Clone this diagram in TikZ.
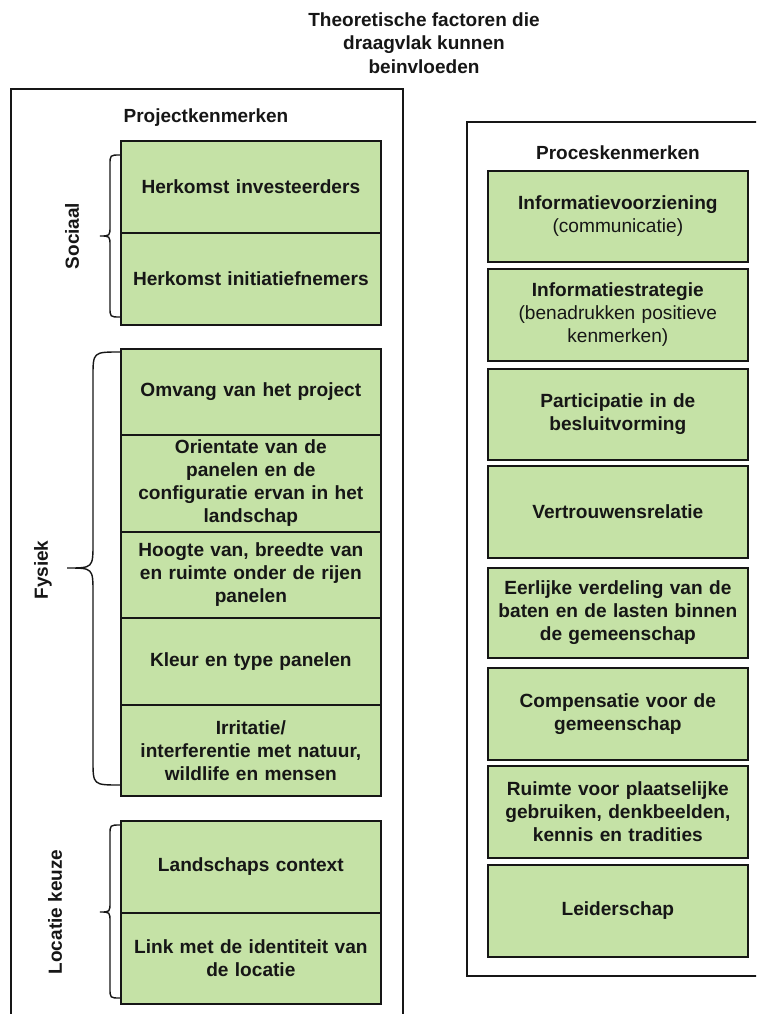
\documentclass[tikz,border=0pt]{standalone}
\usepackage{fontspec}
\setmainfont{Liberation Sans}
\definecolor{boxgreen}{RGB}{197,226,166}
\definecolor{inkc}{RGB}{22,22,22}
\begin{document}
\begin{tikzpicture}[x=1pt,y=-1pt,
  item/.style={draw=inkc, line width=1.7pt, fill=boxgreen, inner sep=0pt,
    align=center, text=inkc, font=\bfseries\fontsize{19.1}{23}\selectfont,
    minimum width=260pt, text width=254pt, anchor=north west},
  panel/.style={draw=inkc, line width=1.8pt, anchor=north west, inner sep=0pt},
  heading/.style={text=inkc, font=\bfseries\fontsize{19}{23.5}\selectfont, align=center},
  grouplabel/.style={text=inkc, font=\bfseries\fontsize{19}{22}\selectfont, rotate=90},
  bracestyle/.style={draw=inkc, line width=1.4pt}
]
\path[use as bounding box, clip] (0,0) rectangle (756,1014);
\fill[white] (0,0) rectangle (756,1014);

% title
\node[heading] (title) at (424,43) {Theoretische factoren die\\draagvlak kunnen\\beinvloeden};

% panels
\node[panel, minimum width=392pt, minimum height=960pt] (leftpanel) at (10,88) {};
\node[panel, minimum width=320pt, minimum height=854pt] (rightpanel) at (466,121) {};

\node[heading] (pk) at (206,118) {Projectkenmerken};
\node[heading] (prk) at (618,153) {Proceskenmerken};

% left items
\node[item, minimum height=92pt] (s1) at (120,140) {Herkomst investeerders};
\node[item, minimum height=92pt] (s2) at (120,232) {Herkomst initiatiefnemers};
\node[item, minimum height=86pt] (f1) at (120,348) {Omvang van het project};
\node[item, minimum height=97pt] (f2) at (120,434) {Orientate van de\\panelen en de\\configuratie ervan in het\\landschap};
\node[item, minimum height=86pt] (f3) at (120,531) {Hoogte van, breedte van\\en ruimte onder de rijen\\panelen};
\node[item, minimum height=87pt] (f4) at (120,617) {Kleur en type panelen};
\node[item, minimum height=91pt] (f5) at (120,704) {Irritatie/\\interferentie met natuur,\\wildlife en mensen};
\node[item, minimum height=92pt] (l1) at (120,820) {Landschaps context};
\node[item, minimum height=91pt] (l2) at (120,912) {Link met de identiteit van\\de locatie};

% right items
\node[item, minimum height=91pt] (r1) at (487,170) {Informatievoorziening\\\mdseries(communicatie)};
\node[item, minimum height=92pt] (r2) at (487,268) {Informatiestrategie\\\mdseries(benadrukken positieve\\kenmerken)};
\node[item, minimum height=91pt] (r3) at (487,368) {Participatie in de\\besluitvorming};
\node[item, minimum height=92pt] (r4) at (487,465) {Vertrouwensrelatie};
\node[item, minimum height=90pt] (r5) at (487,567) {Eerlijke verdeling van de\\baten en de lasten binnen\\de gemeenschap};
\node[item, minimum height=92pt] (r6) at (487,667) {Compensatie voor de\\gemeenschap};
\node[item, minimum height=92pt] (r7) at (487,765) {Ruimte voor plaatselijke\\gebruiken, denkbeelden,\\kennis en tradities};
\node[item, minimum height=92pt] (r8) at (487,864) {Leiderschap};

% braces
\draw[bracestyle] (120,155) .. controls (110,155) .. (110,165) -- (110,226)
  .. controls (110,236) .. (100,236) .. controls (110,236) .. (110,246)
  -- (110,307) .. controls (110,317) .. (120,317);
\draw[bracestyle] (120,352) .. controls (93,352) .. (93,377) -- (93,543)
  .. controls (93,568) .. (67,568) .. controls (93,568) .. (93,593)
  -- (93,760) .. controls (93,785) .. (120,785);
\draw[bracestyle] (120,825) .. controls (110,825) .. (110,835) -- (110,902)
  .. controls (110,912) .. (100,912) .. controls (110,912) .. (110,922)
  -- (110,988) .. controls (110,998) .. (120,998);

% group labels
\node[grouplabel] (sociaal) at (72,236) {Sociaal};
\node[grouplabel] (fysiek) at (43,570) {Fysiek};
\node[grouplabel] (locatie) at (55,912) {Locatie keuze};
\end{tikzpicture}
\end{document}
